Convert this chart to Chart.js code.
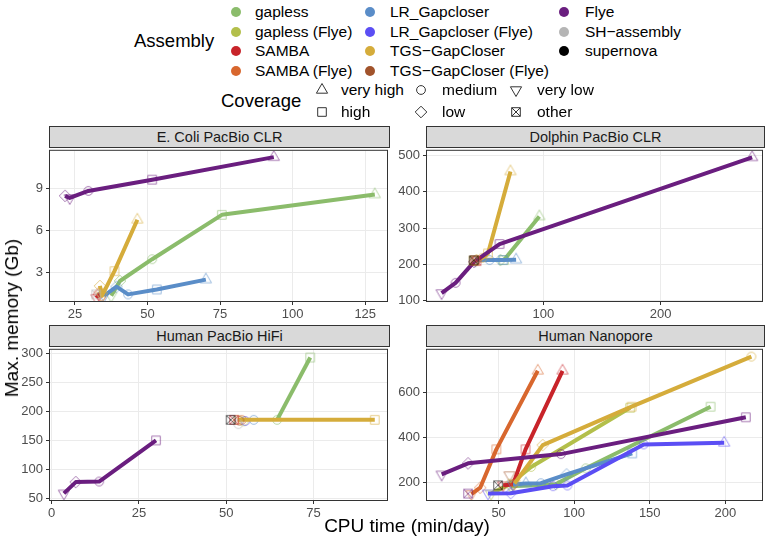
<!DOCTYPE html>
<html>
<head>
<meta charset="utf-8">
<script src="https://cdn.jsdelivr.net/npm/chart.js@4.4.1/dist/chart.umd.min.js"></script>
<style>
  body { margin: 0; background: #fff; width: 769px; height: 539px; position: relative; overflow: hidden;
         font-family: "Liberation Sans", Arial, sans-serif; color: #000; }
  canvas.panel { position: absolute; }
  .strip { position: absolute; background: #d9d9d9; border: 1px solid #333; box-sizing: border-box;
           text-align: center; font-size: 14.5px; color: #1a1a1a; line-height: 20px; }
  .lab { position: absolute; white-space: nowrap; }
  .dot { position: absolute; width: 10px; height: 10px; border-radius: 50%; }
  .key { position: absolute; }
</style>
</head>
<body>
<script>
const methods = ["gapless", "gapless (Flye)", "SAMBA", "SAMBA (Flye)", "LR_Gapcloser", "LR_Gapcloser (Flye)",
  "TGS−GapCloser", "TGS−GapCloser (Flye)", "Flye", "SH−assembly", "supernova"];
const methodColors = ["#8bbc6b", "#b3bf4b", "#c8242a", "#d8672e", "#5a8dc8", "#5b4ef4",
  "#d5ac3b", "#a1532b", "#6a1e7f", "#b5b5b5", "#000000"];
const coverages = ["very high", "high", "medium", "low", "very low", "other"];

// [assembly, coverage, CPU time (min/day), max memory (Gb)]
const ecoliRuns = [
  ["gapless", "very low", 37.5, 1.35], ["gapless", "low", 40.5, 2.4], ["gapless", "medium", 51.6, 3.95],
  ["gapless", "high", 75.6, 7.1], ["gapless", "very high", 128.3, 8.55],
  ["SAMBA", "very low", 32.4, 1.2], ["SAMBA", "low", 33.2, 1.45], ["SAMBA", "medium", 34.0, 1.3],
  ["SAMBA (Flye)", "low", 33.5, 1.6],
  ["LR_Gapcloser", "very low", 35.0, 1.35], ["LR_Gapcloser", "low", 39.3, 2.0], ["LR_Gapcloser", "medium", 43.3, 1.45],
  ["LR_Gapcloser", "high", 53.2, 1.8], ["LR_Gapcloser", "very high", 70.1, 2.5],
  ["TGS−GapCloser", "low", 33.6, 2.05], ["TGS−GapCloser", "very low", 34.3, 1.35], ["TGS−GapCloser", "high", 38.6, 3.1],
  ["TGS−GapCloser", "very high", 46.5, 6.75],
  ["Flye", "low", 21.6, 8.45], ["Flye", "very low", 23.2, 8.3], ["Flye", "medium", 29.6, 8.8],
  ["Flye", "high", 51.6, 9.6], ["Flye", "very high", 93.5, 11.2],
  ["SH−assembly", "other", 32.3, 1.45]
];
const dolphinRuns = [
  ["gapless", "low", 63.5, 212], ["gapless", "high", 66.5, 212], ["gapless", "very high", 96.6, 332],
  ["SAMBA", "other", 43, 209], ["SAMBA (Flye)", "other", 41.5, 212],
  ["LR_Gapcloser", "very low", 42, 211], ["LR_Gapcloser", "medium", 54.2, 212], ["LR_Gapcloser", "high", 65.5, 212],
  ["LR_Gapcloser", "very high", 76.8, 213],
  ["TGS−GapCloser", "other", 40.5, 210], ["TGS−GapCloser", "low", 43, 212], ["TGS−GapCloser", "medium", 48, 218],
  ["TGS−GapCloser", "high", 52.8, 230], ["TGS−GapCloser", "very high", 72, 456],
  ["Flye", "very low", 13.3, 121], ["Flye", "medium", 25.2, 149], ["Flye", "low", 41, 207],
  ["Flye", "high", 62.7, 256], ["Flye", "very high", 278, 495],
  ["supernova", "other", 40.7, 211]
];
const hifiRuns = [
  ["gapless", "medium", 64.6, 185.5], ["gapless", "high", 74.1, 293],
  ["gapless (Flye)", "medium", 55, 183],
  ["SAMBA", "other", 52.3, 185.5], ["SAMBA (Flye)", "medium", 54.5, 185.5],
  ["LR_Gapcloser", "medium", 57.9, 185.5], ["LR_Gapcloser (Flye)", "medium", 55.5, 183.5],
  ["TGS−GapCloser", "medium", 53.3, 185.5], ["TGS−GapCloser", "high", 92.6, 185.5],
  ["TGS−GapCloser (Flye)", "medium", 53.8, 184],
  ["Flye", "very low", 3.5, 58.5], ["Flye", "low", 6.9, 78], ["Flye", "medium", 13.6, 79], ["Flye", "high", 29.9, 150],
  ["SH−assembly", "medium", 53.5, 178], ["supernova", "other", 51.3, 185.5]
];
const nanoporeRuns = [
  ["gapless", "very low", 58, 183], ["gapless", "low", 88, 192], ["gapless", "medium", 107.7, 262],
  ["gapless", "high", 190.3, 535],
  ["gapless (Flye)", "very low", 45, 150], ["gapless (Flye)", "low", 57, 190], ["gapless (Flye)", "medium", 71.5, 268],
  ["gapless (Flye)", "high", 137, 530],
  ["SAMBA", "very low", 53, 187], ["SAMBA", "low", 59.5, 190], ["SAMBA", "high", 67.8, 346],
  ["SAMBA", "very high", 92.3, 694],
  ["SAMBA (Flye)", "very low", 32, 148], ["SAMBA (Flye)", "low", 37.8, 176], ["SAMBA (Flye)", "high", 48.5, 346],
  ["SAMBA (Flye)", "very high", 75.9, 694],
  ["LR_Gapcloser", "very low", 59.5, 190], ["LR_Gapcloser", "very high", 68, 195], ["LR_Gapcloser", "medium", 78, 196],
  ["LR_Gapcloser", "low", 95, 235], ["LR_Gapcloser", "high", 138.4, 328],
  ["LR_Gapcloser (Flye)", "very low", 43, 151], ["LR_Gapcloser (Flye)", "low", 58, 152],
  ["LR_Gapcloser (Flye)", "medium", 86, 183], ["LR_Gapcloser (Flye)", "medium", 95.5, 186],
  ["LR_Gapcloser (Flye)", "medium", 146, 368], ["LR_Gapcloser (Flye)", "very high", 199.3, 375],
  ["TGS−GapCloser", "very low", 60.5, 195], ["TGS−GapCloser", "low", 79.2, 365], ["TGS−GapCloser", "high", 138, 535],
  ["TGS−GapCloser", "medium", 217.3, 757],
  ["TGS−GapCloser (Flye)", "very low", 57.2, 232],
  ["Flye", "very low", 12.3, 235], ["Flye", "low", 29.8, 284], ["Flye", "medium", 91.2, 325], ["Flye", "high", 213.6, 488],
  ["Flye", "other", 29.8, 150],
  ["supernova", "other", 49.6, 187]
];

const ecoliXTicks = [25, 50, 75, 100, 125];
const ecoliYTicks = [3, 6, 9];
const dolphinXTicks = [100, 200];
const dolphinYTicks = [100, 200, 300, 400, 500];
const hifiXTicks = [0, 25, 50, 75];
const hifiYTicks = [50, 100, 150, 200, 250, 300];
const nanoporeXTicks = [50, 100, 150, 200];
const nanoporeYTicks = [200, 400, 600];

const FONT = '"Liberation Sans", Arial, sans-serif';

function makeIcon(shape, color, alpha) {
  const c = document.createElement("canvas");
  c.width = 16; c.height = 16;
  const g = c.getContext("2d");
  g.strokeStyle = color;
  g.globalAlpha = alpha;
  g.lineWidth = 1;
  g.beginPath();
  if (shape === "very high") {
    g.moveTo(8, 1.5); g.lineTo(13.6, 11.2); g.lineTo(2.4, 11.2); g.closePath();
  } else if (shape === "very low") {
    g.moveTo(8, 14.5); g.lineTo(13.6, 4.8); g.lineTo(2.4, 4.8); g.closePath();
  } else if (shape === "medium") {
    g.arc(8, 8, 4.4, 0, Math.PI * 2);
  } else if (shape === "low") {
    g.moveTo(8, 2.2); g.lineTo(13.8, 8); g.lineTo(8, 13.8); g.lineTo(2.2, 8); g.closePath();
  } else {
    g.rect(3.7, 3.7, 8.6, 8.6);
    if (shape === "other") {
      g.moveTo(3.7, 3.7); g.lineTo(12.3, 12.3); g.moveTo(12.3, 3.7); g.lineTo(3.7, 12.3);
    }
  }
  g.stroke();
  return c;
}

const iconCache = {};
function icon(shape, color) {
  const k = shape + color;
  if (!iconCache[k]) iconCache[k] = makeIcon(shape, color, 0.6);
  return iconCache[k];
}

const panelBorder = {
  id: "panelBorder",
  afterDraw(chart) {
    const a = chart.chartArea, c = chart.ctx;
    c.save();
    c.strokeStyle = "#333";
    c.lineWidth = 1;
    c.strokeRect(a.left - 0.5, a.top - 0.5, a.right - a.left + 1, a.bottom - a.top + 1);
    c.restore();
  }
};

const panels = [
  { title: "E. Coli PacBio CLR", runs: ecoliRuns, xTicks: ecoliXTicks, yTicks: ecoliYTicks,
    box: { l: 50, r: 389, t: 148, b: 301 }, x: [16.4, 132.5], y: [0.98, 11.65] },
  { title: "Dolphin PacBio CLR", runs: dolphinRuns, xTicks: dolphinXTicks, yTicks: dolphinYTicks,
    box: { l: 427, r: 764, t: 148, b: 301 }, x: [0.85, 286.4], y: [99, 513] },
  { title: "Human PacBio HiFi", runs: hifiRuns, xTicks: hifiXTicks, yTicks: hifiYTicks,
    box: { l: 50, r: 389, t: 347, b: 500 }, x: [-0.48, 96.1], y: [47.1, 306.4] },
  { title: "Human Nanopore", runs: nanoporeRuns, xTicks: nanoporeXTicks, yTicks: nanoporeYTicks,
    box: { l: 427, r: 764, t: 347, b: 500 }, x: [2.6, 224.3], y: [121.7, 787] }
];

panels.forEach(p => {
  const W = p.box.r - p.box.l + 48, H = p.box.b - p.box.t + 30;
  const cv = document.createElement("canvas");
  cv.className = "panel";
  cv.width = W; cv.height = H;
  cv.style.left = (p.box.l - 40) + "px";
  cv.style.top = (p.box.t - 8) + "px";
  cv.style.width = W + "px"; cv.style.height = H + "px";
  document.body.appendChild(cv);

  const strip = document.createElement("div");
  strip.className = "strip";
  strip.textContent = p.title;
  strip.style.left = (p.box.l - 1) + "px";
  strip.style.top = (p.box.t - 22) + "px";
  strip.style.width = (p.box.r - p.box.l + 2) + "px";
  strip.style.height = "22px";
  document.body.appendChild(strip);

  const datasets = [];
  methods.forEach((m, i) => {
    const pts = p.runs.filter(r => r[0] === m && r[1] !== "other").sort((a, b) => a[2] - b[2]);
    if (!pts.length) return;
    datasets.push({
      data: pts.map(r => ({ x: r[2], y: r[3] })),
      showLine: true,
      borderColor: methodColors[i],
      borderWidth: 4,
      borderJoinStyle: "round",
      pointStyle: pts.map(r => icon(r[1], methodColors[i])),
      pointRadius: 6,
      order: methods.length - i + 1
    });
  });
  const others = p.runs.filter(r => r[1] === "other");
  datasets.push({
    data: others.map(r => ({ x: r[2], y: r[3] })),
    showLine: false,
    pointStyle: others.map(r => icon("other", methodColors[methods.indexOf(r[0])])),
    pointRadius: 6,
    order: 0
  });

  const tickFont = { family: FONT, size: 13 };
  const grid = { color: "#ebebeb", lineWidth: 1, tickColor: "#333", tickLength: 4 };
  new Chart(cv, {
    type: "scatter",
    data: { datasets },
    options: {
      responsive: false,
      animation: false,
      events: [],
      devicePixelRatio: 1,
      layout: { padding: { left: 0, top: 8, right: 8, bottom: 0 } },
      plugins: { legend: { display: false }, tooltip: { enabled: false } },
      scales: {
        x: {
          type: "linear", min: p.x[0], max: p.x[1],
          afterBuildTicks: s => { s.ticks = p.xTicks.map(v => ({ value: v })); },
          afterFit: s => { s.height = 22; },
          grid, border: { display: false },
          ticks: { color: "#4d4d4d", font: tickFont, padding: 2, maxRotation: 0, autoSkip: false }
        },
        y: {
          type: "linear", min: p.y[0], max: p.y[1],
          afterBuildTicks: s => { s.ticks = p.yTicks.map(v => ({ value: v })); },
          afterFit: s => { s.width = 40; },
          grid, border: { display: false },
          ticks: { color: "#4d4d4d", font: tickFont, padding: 3, autoSkip: false }
        }
      }
    },
    plugins: [panelBorder]
  });
});

// axis titles
function addLabel(text, left, top, size, extra) {
  const d = document.createElement("div");
  d.className = "lab";
  d.textContent = text;
  d.style.left = left + "px";
  d.style.top = top + "px";
  d.style.fontSize = size + "px";
  if (extra) Object.assign(d.style, extra);
  document.body.appendChild(d);
  return d;
}
addLabel("CPU time (min/day)", 407, 526, 19, { transform: "translate(-50%, -50%)" });
addLabel("Max. memory (Gb)", 12, 318, 19, { transform: "translate(-50%, -50%) rotate(-90deg)" });

// legends
addLabel("Assembly", 134, 41, 18.5, { transform: "translateY(-50%)" });
const colDot = [236, 370, 564], colText = [255, 390, 585];
methods.forEach((m, i) => {
  const col = Math.floor(i / 4), row = i % 4, y = 12 + row * 19.5;
  const d = document.createElement("div");
  d.className = "dot";
  d.style.background = methodColors[i];
  d.style.left = (colDot[col] - 5) + "px";
  d.style.top = (y - 5) + "px";
  document.body.appendChild(d);
  addLabel(m, colText[col], y, 15.5, { transform: "translateY(-50%)" });
});
addLabel("Coverage", 221, 101, 18.5, { transform: "translateY(-50%)" });
const covShape = [322, 421, 516], covText = [341, 442, 537];
coverages.forEach((c, i) => {
  const col = Math.floor(i / 2), row = i % 2, y = 90 + row * 22;
  const k = makeIcon(c, "#333", 1);
  k.className = "key";
  k.style.left = (covShape[col] - 8) + "px";
  k.style.top = (y - 8) + "px";
  document.body.appendChild(k);
  addLabel(c, covText[col], y, 15.5, { transform: "translateY(-50%)" });
});
</script>
</body>
</html>
